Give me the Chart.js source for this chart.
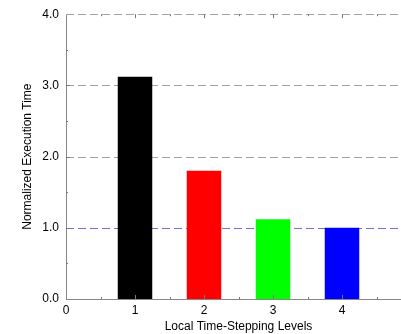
<!DOCTYPE html>
<html>
<head>
<meta charset="utf-8">
<script src="https://cdn.jsdelivr.net/npm/chart.js@4/dist/chart.umd.min.js"></script>
<style>
  body { margin: 0; background: #fff; overflow: hidden; width: 401px; height: 334px; }
</style>
</head>
<body>
<canvas id="myChart" width="420" height="334"></canvas>
<script>
const levels = [1, 2, 3, 4];
const execTimes = [3.12, 1.80, 1.12, 1.00];
const barColors = ['#000000', '#ff0000', '#00ff00', '#0000ff'];
const yTicks = [0, 1, 2, 3, 4];
const xTickLabels = ['0', '1', '2', '3', '4'];
const gridColors = ['rgba(0,0,0,0)', '#7272d4', '#a4a4a4', '#a4a4a4', '#a4a4a4'];

Chart.defaults.font.family = '"Liberation Sans", Arial, Helvetica, sans-serif';
Chart.defaults.font.size = 12;
Chart.defaults.color = '#000';

// dashed horizontal reference lines behind the bars
const dashedGrid = {
    id: 'dashedGrid',
    beforeDatasetsDraw(chart) {
        const ctx = chart.ctx;
        const y = chart.scales.y;
        const area = chart.chartArea;
        ctx.save();
        ctx.lineWidth = 1;
        ctx.setLineDash([8, 4]);
        yTicks.forEach((v, i) => {
            if (i === 0) return;
            const py = Math.round(y.getPixelForValue(v)) + 0.5;
            ctx.strokeStyle = gridColors[i];
            ctx.beginPath();
            ctx.moveTo(area.left, py);
            ctx.lineTo(area.right, py);
            ctx.stroke();
        });
        ctx.restore();
    }
};

// small inward tick marks, major on whole numbers and minor on halves
const innerTicks = {
    id: 'innerTicks',
    afterDraw(chart) {
        const ctx = chart.ctx;
        const x = chart.scales.x;
        const y = chart.scales.y;
        const area = chart.chartArea;
        ctx.save();
        ctx.strokeStyle = '#777';
        ctx.lineWidth = 1;
        for (let v = 0.5; v < 5; v += 0.5) {
            const px = Math.round(x.getPixelForValue(v)) + 0.5;
            const len = Number.isInteger(v) ? 4 : 2;
            ctx.beginPath();
            ctx.moveTo(px, area.bottom);
            ctx.lineTo(px, area.bottom - len);
            ctx.moveTo(px, area.top);
            ctx.lineTo(px, area.top + len);
            ctx.stroke();
        }
        for (let v = 0.5; v < 4; v += 0.5) {
            const py = Math.round(y.getPixelForValue(v)) + 0.5;
            const len = Number.isInteger(v) ? 4 : 2;
            ctx.beginPath();
            ctx.moveTo(area.left, py);
            ctx.lineTo(area.left + len, py);
            ctx.stroke();
        }
        ctx.restore();
    }
};

const ctx = document.getElementById('myChart');
new Chart(ctx, {
    type: 'bar',
    data: {
        datasets: [{
            data: levels.map((l, i) => ({ x: l, y: execTimes[i] })),
            backgroundColor: barColors,
            borderWidth: 0,
            barPercentage: 0.5,
            categoryPercentage: 1
        }]
    },
    options: {
        responsive: false,
        animation: false,
        layout: { padding: { left: 20, top: 11, right: 9, bottom: 0 } },
        plugins: { legend: { display: false }, tooltip: { enabled: false } },
        scales: {
            x: {
                type: 'linear',
                min: 0,
                max: 5,
                offset: false,
                afterFit: (s) => { s.height = 35; },
                afterBuildTicks: (s) => { s.ticks = xTickLabels.map(t => ({ value: Number(t) })); },
                ticks: {
                    padding: 4,
                    callback: (v) => xTickLabels[v] ?? ''
                },
                grid: { display: false, drawTicks: false, tickLength: 0 },
                border: { display: true, color: '#888', width: 1 },
                title: {
                    display: true,
                    text: 'Local Time-Stepping Levels',
                    padding: 0
                }
            },
            y: {
                min: 0,
                max: 4,
                afterFit: (s) => { s.width = 46; },
                afterBuildTicks: (s) => { s.ticks = yTicks.map(v => ({ value: v })); },
                ticks: {
                    padding: 7,
                    callback: (v) => v.toFixed(1)
                },
                grid: { display: false, drawTicks: false, tickLength: 0 },
                border: { display: true, color: '#888', width: 1 },
                title: {
                    display: true,
                    text: 'Normalized Execution Time',
                    padding: 0
                }
            }
        }
    },
    plugins: [dashedGrid, innerTicks]
});
</script>
</body>
</html>
